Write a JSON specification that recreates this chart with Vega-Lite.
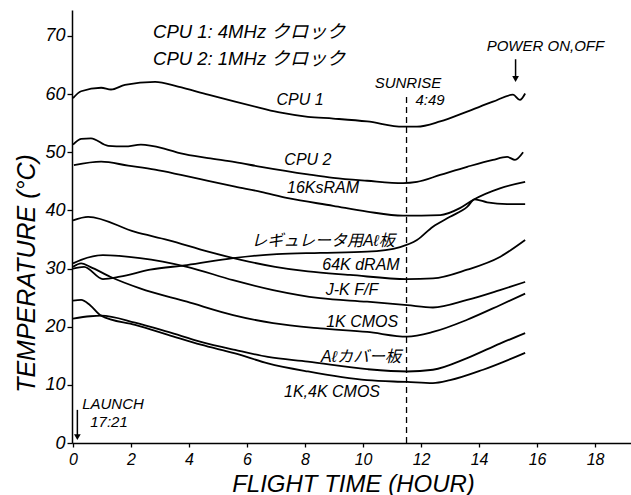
{
  "$schema": "https://vega.github.io/schema/vega-lite/v6.json",
  "width": 559,
  "height": 433,
  "autosize": {"type": "none"},
  "padding": {"left": 72, "top": 10, "right": 0, "bottom": 52},
  "background": "white",
  "config": {
    "view": {"stroke": null},
    "font": "Liberation Sans",
    "axis": {
      "domainColor": "black", "domainWidth": 1.5, "tickColor": "black", "tickWidth": 1.3,
      "labelColor": "black", "labelFont": "Liberation Sans", "labelFontStyle": "italic",
      "titleColor": "black", "titleFont": "Liberation Sans", "titleFontStyle": "italic", "titleFontWeight": "normal",
      "grid": false
    },
    "axisY": {"tickSize": 5, "labelPadding": 2, "labelFontSize": 18, "titleFontSize": 25, "titleAngle": -90, "titleX": -46, "titleY": 263, "titleAlign": "center", "titleBaseline": "middle"},
    "axisX": {"tickSize": 4, "labelPadding": 4, "labelFontSize": 16, "titleFontSize": 24, "titleX": 281, "titleY": 41, "titleAlign": "center", "titleBaseline": "middle"}
  },
  "datasets": {
    "curves": [
      {"s":"CPU1","t":0,"temp":59.3},{"s":"CPU1","t":0.28,"temp":60.5},{"s":"CPU1","t":0.97,"temp":61.1},{"s":"CPU1","t":1.31,"temp":60.8},{"s":"CPU1","t":1.79,"temp":61.6},{"s":"CPU1","t":2.83,"temp":62.1},{"s":"CPU1","t":3.62,"temp":61.3},{"s":"CPU1","t":4.66,"temp":59.9},{"s":"CPU1","t":5.59,"temp":58.7},{"s":"CPU1","t":6.48,"temp":57.6},{"s":"CPU1","t":7.17,"temp":56.8},{"s":"CPU1","t":8.1,"temp":56.1},{"s":"CPU1","t":8.97,"temp":55.8},{"s":"CPU1","t":10.14,"temp":55.3},{"s":"CPU1","t":11.38,"temp":54.4},{"s":"CPU1","t":11.86,"temp":54.4},{"s":"CPU1","t":12.66,"temp":55.3},{"s":"CPU1","t":13.59,"temp":57.0},{"s":"CPU1","t":14.48,"temp":58.7},{"s":"CPU1","t":15.17,"temp":59.9},{"s":"CPU1","t":15.41,"temp":59.0},{"s":"CPU1","t":15.59,"temp":60.1},
      {"s":"CPU2","t":0,"temp":51.3},{"s":"CPU2","t":0.28,"temp":52.3},{"s":"CPU2","t":0.62,"temp":52.4},{"s":"CPU2","t":1.21,"temp":51.1},{"s":"CPU2","t":1.79,"temp":51.0},{"s":"CPU2","t":2.34,"temp":51.3},{"s":"CPU2","t":3.17,"temp":50.6},{"s":"CPU2","t":3.72,"temp":49.8},{"s":"CPU2","t":4.66,"temp":49.0},{"s":"CPU2","t":5.59,"temp":48.3},{"s":"CPU2","t":6.48,"temp":47.5},{"s":"CPU2","t":8.1,"temp":46.2},{"s":"CPU2","t":8.97,"temp":45.6},{"s":"CPU2","t":10.14,"temp":45.1},{"s":"CPU2","t":11.38,"temp":44.7},{"s":"CPU2","t":11.86,"temp":44.9},{"s":"CPU2","t":12.66,"temp":46.1},{"s":"CPU2","t":13.59,"temp":47.5},{"s":"CPU2","t":14.48,"temp":48.7},{"s":"CPU2","t":14.97,"temp":49.2},{"s":"CPU2","t":15.24,"temp":48.7},{"s":"CPU2","t":15.52,"temp":50.0},
      {"s":"SRAM","t":0.03,"temp":47.8},{"s":"SRAM","t":0.97,"temp":48.4},{"s":"SRAM","t":1.9,"temp":47.7},{"s":"SRAM","t":2.83,"temp":47.0},{"s":"SRAM","t":3.72,"temp":46.1},{"s":"SRAM","t":4.66,"temp":45.1},{"s":"SRAM","t":5.59,"temp":44.1},{"s":"SRAM","t":6.48,"temp":43.2},{"s":"SRAM","t":7.41,"temp":42.1},{"s":"SRAM","t":8.97,"temp":40.8},{"s":"SRAM","t":10.14,"temp":39.8},{"s":"SRAM","t":11.38,"temp":39.1},{"s":"SRAM","t":12.66,"temp":39.2},{"s":"SRAM","t":13.34,"temp":40.4},{"s":"SRAM","t":13.79,"temp":41.8},{"s":"SRAM","t":14.72,"temp":43.8},{"s":"SRAM","t":15.59,"temp":44.9},
      {"s":"REG","t":0,"temp":30.0},{"s":"REG","t":0.38,"temp":30.3},{"s":"REG","t":1.03,"temp":28.2},{"s":"REG","t":1.62,"temp":28.6},{"s":"REG","t":2.66,"temp":29.8},{"s":"REG","t":3.93,"temp":30.6},{"s":"REG","t":5.52,"temp":31.8},{"s":"REG","t":7.03,"temp":32.5},{"s":"REG","t":8.52,"temp":32.7},{"s":"REG","t":10.14,"temp":32.9},{"s":"REG","t":11.28,"temp":33.7},{"s":"REG","t":11.86,"temp":34.9},{"s":"REG","t":12.41,"temp":37.2},{"s":"REG","t":13.0,"temp":38.9},{"s":"REG","t":13.59,"temp":40.6},{"s":"REG","t":13.85,"temp":41.9},{"s":"REG","t":14.28,"temp":41.4},{"s":"REG","t":14.97,"temp":41.1},{"s":"REG","t":15.59,"temp":41.1},
      {"s":"DRAM","t":0,"temp":38.3},{"s":"DRAM","t":0.52,"temp":38.9},{"s":"DRAM","t":2.14,"temp":36.3},{"s":"DRAM","t":3.28,"temp":34.9},{"s":"DRAM","t":4.66,"temp":32.9},{"s":"DRAM","t":5.79,"temp":31.5},{"s":"DRAM","t":6.97,"temp":30.3},{"s":"DRAM","t":8.1,"temp":29.5},{"s":"DRAM","t":9.55,"temp":28.9},{"s":"DRAM","t":11.52,"temp":28.2},{"s":"DRAM","t":12.41,"temp":28.3},{"s":"DRAM","t":13.59,"temp":29.8},{"s":"DRAM","t":14.72,"temp":32.0},{"s":"DRAM","t":15.59,"temp":34.9},
      {"s":"JKFF","t":0,"temp":30.9},{"s":"JKFF","t":0.28,"temp":31.5},{"s":"JKFF","t":1.03,"temp":32.3},{"s":"JKFF","t":2.31,"temp":31.8},{"s":"JKFF","t":3.93,"temp":30.3},{"s":"JKFF","t":5.52,"temp":28.0},{"s":"JKFF","t":6.9,"temp":26.3},{"s":"JKFF","t":8.52,"temp":24.9},{"s":"JKFF","t":10.14,"temp":24.3},{"s":"JKFF","t":11.52,"temp":23.7},{"s":"JKFF","t":12.41,"temp":23.3},{"s":"JKFF","t":13.59,"temp":24.6},{"s":"JKFF","t":14.72,"temp":26.3},{"s":"JKFF","t":15.59,"temp":27.7},
      {"s":"CMOS1K","t":0,"temp":30.3},{"s":"CMOS1K","t":0.28,"temp":30.9},{"s":"CMOS1K","t":0.59,"temp":30.3},{"s":"CMOS1K","t":1.28,"temp":28.6},{"s":"CMOS1K","t":2.31,"temp":26.6},{"s":"CMOS1K","t":3.93,"temp":24.3},{"s":"CMOS1K","t":5.52,"temp":22.0},{"s":"CMOS1K","t":6.9,"temp":20.6},{"s":"CMOS1K","t":8.52,"temp":19.7},{"s":"CMOS1K","t":10.14,"temp":19.1},{"s":"CMOS1K","t":11.52,"temp":18.3},{"s":"CMOS1K","t":12.41,"temp":19.1},{"s":"CMOS1K","t":13.59,"temp":21.2},{"s":"CMOS1K","t":14.72,"temp":23.7},{"s":"CMOS1K","t":15.59,"temp":25.7},
      {"s":"ALC","t":0,"temp":21.4},{"s":"ALC","t":0.59,"temp":21.8},{"s":"ALC","t":0.97,"temp":21.9},{"s":"ALC","t":2.14,"temp":20.7},{"s":"ALC","t":3.28,"temp":19.1},{"s":"ALC","t":4.41,"temp":17.4},{"s":"ALC","t":5.59,"temp":16.0},{"s":"ALC","t":6.72,"temp":14.8},{"s":"ALC","t":8.1,"temp":14.0},{"s":"ALC","t":10.14,"temp":12.7},{"s":"ALC","t":11.52,"temp":12.3},{"s":"ALC","t":12.41,"temp":12.6},{"s":"ALC","t":13.59,"temp":14.6},{"s":"ALC","t":14.72,"temp":17.1},{"s":"ALC","t":15.59,"temp":18.9},
      {"s":"CMOS4K","t":0,"temp":24.5},{"s":"CMOS4K","t":0.28,"temp":24.6},{"s":"CMOS4K","t":0.59,"temp":23.7},{"s":"CMOS4K","t":0.97,"temp":21.9},{"s":"CMOS4K","t":2.14,"temp":20.3},{"s":"CMOS4K","t":3.28,"temp":18.6},{"s":"CMOS4K","t":4.41,"temp":16.9},{"s":"CMOS4K","t":5.59,"temp":15.4},{"s":"CMOS4K","t":6.72,"temp":13.7},{"s":"CMOS4K","t":8.1,"temp":12.3},{"s":"CMOS4K","t":10.14,"temp":10.8},{"s":"CMOS4K","t":11.52,"temp":10.5},{"s":"CMOS4K","t":12.41,"temp":10.3},{"s":"CMOS4K","t":13.0,"temp":10.8},{"s":"CMOS4K","t":14.14,"temp":12.6},{"s":"CMOS4K","t":15.59,"temp":15.5}
    ],
    "curveLabels": [
      {"label":"CPU 1","t":7.83,"temp":59.0},
      {"label":"CPU 2","t":8.1,"temp":48.7},
      {"label":"16KsRAM","t":8.62,"temp":43.9},
      {"label":"レギュレータ用Aℓ板","t":8.62,"temp":34.7},
      {"label":"64K dRAM","t":9.93,"temp":30.6},
      {"label":"J-K F/F","t":9.62,"temp":26.3},
      {"label":"1K CMOS","t":9.97,"temp":20.8},
      {"label":"Aℓカバー板","t":9.93,"temp":14.8},
      {"label":"1K,4K CMOS","t":8.93,"temp":8.8}
    ],
    "notes": [
      {"label":"POWER ON,OFF","t":16.29,"temp":68.2},
      {"label":"SUNRISE","t":11.55,"temp":61.9},
      {"label":"4:49","t":12.31,"temp":59.0},
      {"label":"LAUNCH","t":1.38,"temp":6.7},
      {"label":"17:21","t":1.24,"temp":3.6}
    ],
    "clock": [
      {"label":"CPU 1: 4MHz クロック","t":2.76,"temp":70.7},
      {"label":"CPU 2: 1MHz クロック","t":2.76,"temp":66.0}
    ],
    "arrows": [
      {"name":"launch","t":0.15,"temp":5.7,"temp2":1.2,"head":1.0},
      {"name":"power","t":15.26,"temp":66.0,"temp2":62.8,"head":62.6}
    ],
    "sunrise": [{"t":11.5,"temp":0,"temp2":60.2}]
  },
  "layer": [
    {
      "data": {"name": "curves"},
      "mark": {"type": "line", "interpolate": "monotone", "color": "black", "strokeWidth": 1.8},
      "encoding": {
        "x": {"field": "t", "type": "quantitative", "title": "FLIGHT TIME (HOUR)", "scale": {"domain": [-0.035, 19.24], "nice": false, "zero": false}, "axis": {"values": [0,2,4,6,8,10,12,14,16,18]}},
        "y": {"field": "temp", "type": "quantitative", "title": "TEMPERATURE (°C)", "scale": {"domain": [0, 74.47], "nice": false}, "axis": {"values": [0,10,20,30,40,50,60,70]}},
        "detail": {"field": "s"}
      }
    },
    {
      "data": {"name": "sunrise"},
      "mark": {"type": "rule", "color": "black", "strokeWidth": 1.3, "strokeDash": [6, 4]},
      "encoding": {
        "x": {"field": "t", "type": "quantitative", "title": "FLIGHT TIME (HOUR)", "scale": {"domain": [-0.035, 19.24], "nice": false, "zero": false}},
        "y": {"field": "temp", "type": "quantitative", "title": "TEMPERATURE (°C)", "scale": {"domain": [0, 74.47], "nice": false}},
        "y2": {"field": "temp2"}
      }
    },
    {
      "data": {"name": "arrows"},
      "mark": {"type": "rule", "color": "black", "strokeWidth": 1.5},
      "encoding": {
        "x": {"field": "t", "type": "quantitative", "title": "FLIGHT TIME (HOUR)", "scale": {"domain": [-0.035, 19.24], "nice": false, "zero": false}},
        "y": {"field": "temp", "type": "quantitative", "title": "TEMPERATURE (°C)", "scale": {"domain": [0, 74.47], "nice": false}},
        "y2": {"field": "temp2"}
      }
    },
    {
      "data": {"name": "arrows"},
      "mark": {"type": "point", "shape": "triangle-down", "filled": true, "color": "black", "size": 45, "opacity": 1},
      "encoding": {
        "x": {"field": "t", "type": "quantitative", "title": "FLIGHT TIME (HOUR)", "scale": {"domain": [-0.035, 19.24], "nice": false, "zero": false}},
        "y": {"field": "head", "type": "quantitative", "title": "TEMPERATURE (°C)", "scale": {"domain": [0, 74.47], "nice": false}}
      }
    },
    {
      "data": {"name": "curveLabels"},
      "mark": {"type": "text", "font": "Liberation Sans, Noto Sans CJK JP", "fontStyle": "italic", "fontSize": 16, "color": "black", "align": "center", "baseline": "middle"},
      "encoding": {
        "x": {"field": "t", "type": "quantitative", "title": "FLIGHT TIME (HOUR)", "scale": {"domain": [-0.035, 19.24], "nice": false, "zero": false}},
        "y": {"field": "temp", "type": "quantitative", "title": "TEMPERATURE (°C)", "scale": {"domain": [0, 74.47], "nice": false}},
        "text": {"field": "label"}
      }
    },
    {
      "data": {"name": "notes"},
      "mark": {"type": "text", "font": "Liberation Sans", "fontStyle": "italic", "fontSize": 15, "color": "black", "align": "center", "baseline": "middle"},
      "encoding": {
        "x": {"field": "t", "type": "quantitative", "title": "FLIGHT TIME (HOUR)", "scale": {"domain": [-0.035, 19.24], "nice": false, "zero": false}},
        "y": {"field": "temp", "type": "quantitative", "title": "TEMPERATURE (°C)", "scale": {"domain": [0, 74.47], "nice": false}},
        "text": {"field": "label"}
      }
    },
    {
      "data": {"name": "clock"},
      "mark": {"type": "text", "font": "Liberation Sans, Noto Sans CJK JP", "fontStyle": "italic", "fontSize": 18.5, "color": "black", "align": "left", "baseline": "middle"},
      "encoding": {
        "x": {"field": "t", "type": "quantitative", "title": "FLIGHT TIME (HOUR)", "scale": {"domain": [-0.035, 19.24], "nice": false, "zero": false}},
        "y": {"field": "temp", "type": "quantitative", "title": "TEMPERATURE (°C)", "scale": {"domain": [0, 74.47], "nice": false}},
        "text": {"field": "label"}
      }
    }
  ]
}
